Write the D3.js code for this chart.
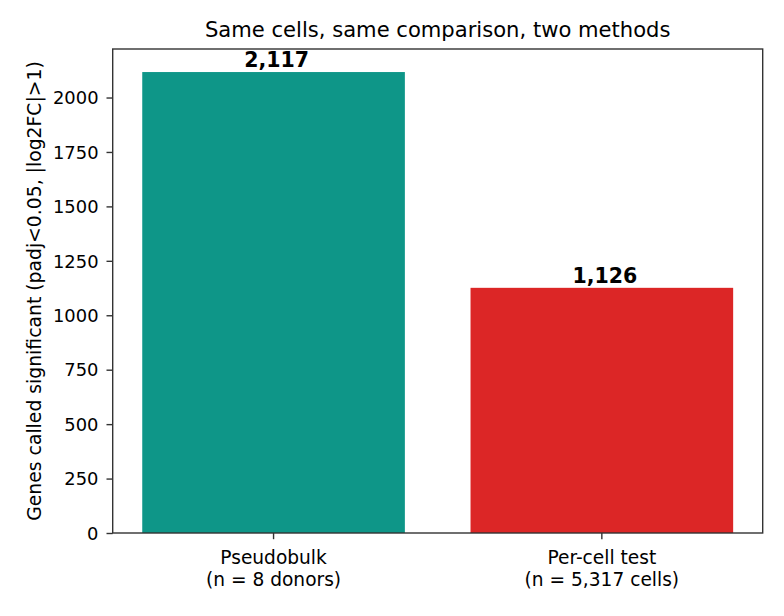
<!DOCTYPE html>
<html>
<head>
<meta charset="utf-8">
<script src="https://cdn.jsdelivr.net/npm/d3@7"></script>
<style>
  html, body { margin: 0; padding: 0; background: #fff; }
  svg { display: block; font-family: "DejaVu Sans", sans-serif; }
</style>
</head>
<body>
<svg id="chart" width="784" height="616"></svg>
<script>
const categories = ["Pseudobulk", "Per-cell test"];
const categorySubtitles = ["(n = 8 donors)", "(n = 5,317 cells)"];
const values = [2117, 1126];
const valueLabels = ["2,117", "1,126"];
const colors = ["#0e9688", "#dc2626"];
const yTicks = [0, 250, 500, 750, 1000, 1250, 1500, 1750, 2000];
const title = "Same cells, same comparison, two methods";
const yLabel = "Genes called significant (padj<0.05, |log2FC|>1)";

const svg = d3.select("#chart");
const W = 784, H = 616;
const margin = { left: 112.7, right: W - 762.7, top: 49, bottom: H - 533 };
const x0 = margin.left, x1 = W - margin.right, y0 = H - margin.bottom, y1 = margin.top;

const x = d3.scaleBand().domain(d3.range(categories.length)).range([x0, x1])
  .paddingInner(0.2).paddingOuter(0.09);
const y = d3.scaleLinear().domain([0, d3.max(values) * 1.05]).range([y0, y1]);

const axisColor = "#333";
const yTickFont = 17.9;
const xTickFont = 18.6;

// bars
svg.append("g").selectAll("rect").data(values).join("rect")
  .attr("x", (d, i) => x(i))
  .attr("width", x.bandwidth())
  .attr("y", d => y(d))
  .attr("height", d => y(0) - y(d))
  .attr("fill", (d, i) => colors[i]);

// value labels
svg.append("g").selectAll("text").data(values).join("text")
  .attr("x", (d, i) => x(i) + x.bandwidth() / 2 + 3)
  .attr("y", d => y(d) - 5.3)
  .attr("text-anchor", "middle")
  .attr("font-weight", "bold")
  .attr("font-size", 20.5)
  .attr("fill", "#000")
  .text((d, i) => valueLabels[i]);

// y axis
const yAxis = d3.axisLeft(y).tickValues(yTicks).tickSize(6.2).tickPadding(8).tickFormat(d3.format("d"));
const gy = svg.append("g").attr("transform", `translate(${x0},0)`).call(yAxis);
gy.select(".domain").remove();
gy.selectAll(".tick line").attr("stroke", axisColor).attr("stroke-width", 1.4);
gy.selectAll(".tick text").attr("font-size", yTickFont).attr("fill", "#000")
  .attr("font-family", "DejaVu Sans").attr("dy", "0.35em");

// x axis
const xAxis = d3.axisBottom(x).tickSize(6.2).tickPadding(6).tickFormat(i => categories[i]);
const gx = svg.append("g").attr("transform", `translate(0,${y0})`).call(xAxis);
gx.select(".domain").remove();
gx.selectAll(".tick line").attr("stroke", axisColor).attr("stroke-width", 1.4);
gx.selectAll(".tick text").remove();
gx.selectAll(".tick").each(function(i) {
  const t = d3.select(this).append("text")
    .attr("text-anchor", "middle")
    .attr("font-size", xTickFont)
    .attr("font-family", "DejaVu Sans")
    .attr("fill", "#000");
  t.append("tspan").attr("x", 0).attr("y", 30.5).text(categories[i]);
  t.append("tspan").attr("x", 0).attr("y", 30.5 + 22.5).text(categorySubtitles[i]);
});

// frame
svg.append("rect")
  .attr("x", x0).attr("y", y1).attr("width", x1 - x0).attr("height", y0 - y1)
  .attr("fill", "none").attr("stroke", axisColor).attr("stroke-width", 1.4);

// title
svg.append("text")
  .attr("x", (x0 + x1) / 2).attr("y", 36.7)
  .attr("text-anchor", "middle").attr("font-size", 21.1).attr("fill", "#000")
  .text(title);

// y label
svg.append("text")
  .attr("transform", `translate(41,${(y0 + y1) / 2}) rotate(-90)`)
  .attr("text-anchor", "middle").attr("font-size", 18.8).attr("fill", "#000")
  .text(yLabel);
</script>
</body>
</html>
